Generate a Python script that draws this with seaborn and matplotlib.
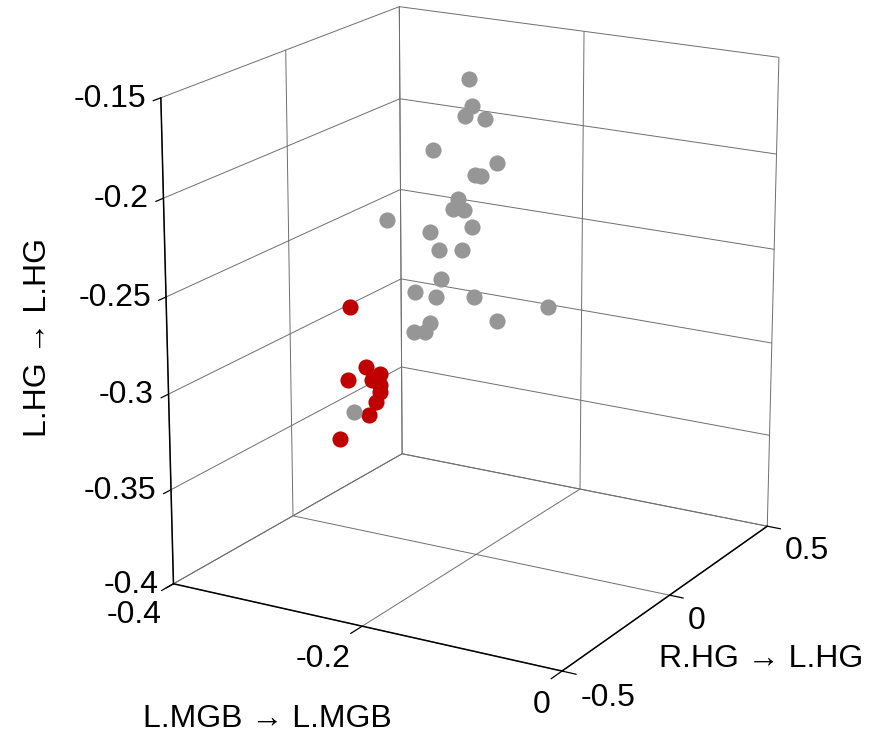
import numpy as np
import matplotlib
matplotlib.use("Agg")
import matplotlib.pyplot as plt
import seaborn as sns

x_ticks = [-0.4, -0.2, 0]
y_ticks = [-0.5, 0, 0.5]
z_ticks = [-0.4, -0.35, -0.3, -0.25, -0.2, -0.15]
x_labels = ["-0.4", "-0.2", "0"]
y_labels = ["-0.5", "0", "0.5"]
z_labels = ["-0.4", "-0.35", "-0.3", "-0.25", "-0.2", "-0.15"]

gray_x = [-0.18, -0.18, -0.18, -0.18, -0.18, -0.18, -0.18, -0.18, -0.18, -0.18, -0.18, -0.18, -0.18,
          -0.18, -0.18, -0.18, -0.18, -0.18, -0.18, -0.18, -0.18, -0.18, -0.18, -0.18, -0.18, -0.32]
gray_y = [-0.117, -0.104, -0.137, -0.048, -0.271, 0.004, -0.092, -0.067, -0.167, -0.187, -0.140, -0.464, -0.105,
          -0.285, -0.249, -0.149, -0.242, -0.352, -0.262, -0.098, 0.246, -0.287, 0.006, -0.356, -0.311, -0.042]
gray_z = [-0.144, -0.158, -0.161, -0.167, -0.171, -0.192, -0.193, -0.195, -0.201, -0.205, -0.208, -0.195, -0.219,
          -0.211, -0.222, -0.228, -0.237, -0.237, -0.245, -0.255, -0.281, -0.257, -0.274, -0.257, -0.260, -0.332]

red_x = [-0.32, -0.32, -0.32, -0.32, -0.32, -0.32, -0.32, -0.32, -0.32, -0.32]
red_y = [-0.057, 0.009, -0.067, 0.074, 0.035, 0.072, 0.072, 0.052, 0.021, -0.107]
red_z = [-0.275, -0.311, -0.313, -0.319, -0.320, -0.325, -0.329, -0.333, -0.338, -0.342]

sns.set_theme(style="ticks")
plt.rcParams["font.family"] = ["Liberation Sans", "DejaVu Sans"]

fig = plt.figure(figsize=(8.8, 7.33), dpi=100)
ax = fig.add_axes([212.26 / 880, 148.51 / 733, 513.97 / 880, 513.97 / 733], projection="3d")
ax.computed_zorder = False
ax.patch.set_alpha(0)

ax.set_xlim(-0.4, 0, view_margin=0)
ax.set_ylim(-0.5, 0.5, view_margin=0)
ax.set_zlim(-0.4, -0.15, view_margin=0)
ax.view_init(elev=17.8315, azim=-59.9566, roll=0)
ax.set_proj_type("persp", focal_length=1.3807)
ax.set_box_aspect((0.8848, 0.8833, 1), zoom=1.5154)

ax.set_xticks(x_ticks)
ax.set_xticklabels(x_labels)
ax.set_yticks(y_ticks)
ax.set_yticklabels(y_labels)
ax.set_zticks(z_ticks)
ax.set_zticklabels(z_labels)
ax.tick_params(labelsize=23, colors="black")
ax.tick_params(axis="x", pad=1.9)
ax.tick_params(axis="y", pad=1.0)
ax.tick_params(axis="z", pad=-3.5)
ax.zaxis.set_ticks_position("lower")

# alignment of the tick texts as in the original: x and z end at the tick, y starts there
for lab in ax.get_xticklabels():
    lab.set_ha("right")
    lab.set_va("center")
for lab in ax.get_yticklabels():
    lab.set_ha("left")
    lab.set_va("center")
for lab in ax.get_zticklabels():
    lab.set_ha("right")
    lab.set_va("center")

for axis in (ax.xaxis, ax.yaxis, ax.zaxis):
    axis.set_pane_color((1, 1, 1, 0))
    axis.pane.set_edgecolor((1, 1, 1, 0))
    axis.line.set_color("black")
    axis.line.set_linewidth(1.1)
    axis._axinfo["grid"].update(color="#6e6e6e", linewidth=0.7, linestyle="-")

# the tick marks point away from the box, which here is the "inward" side of mplot3d
ax.xaxis._axinfo["tick"].update(inward_factor=0.6, outward_factor=0, linewidth={True: 0.9, False: 0.5})
ax.yaxis._axinfo["tick"].update(inward_factor=0.43, outward_factor=0, linewidth={True: 0.9, False: 0.5})
ax.zaxis._axinfo["tick"].update(inward_factor=0.37, outward_factor=0, linewidth={True: 0.9, False: 0.5})

ax.grid(True)

# gray dots, then red, then the one gray dot that sits on top of the red cluster
ax.scatter(gray_x[:-1], gray_y[:-1], gray_z[:-1], s=135, c="#969696", linewidths=0, depthshade=False, alpha=1, zorder=3)
ax.scatter(red_x, red_y, red_z, s=135, c="#C00000", linewidths=0, depthshade=False, alpha=1, zorder=4)
ax.scatter(gray_x[-1:], gray_y[-1:], gray_z[-1:], s=135, c="#969696", linewidths=0, depthshade=False, alpha=1, zorder=5)

fig.text(267 / 880, 1 - 719 / 733, "L.MGB → L.MGB", fontsize=23, ha="center", va="center", color="black")
fig.text(761 / 880, 1 - 659 / 733, "R.HG → L.HG", fontsize=23, ha="center", va="center", color="black")
fig.text(38 / 880, 1 - 338 / 733, "L.HG → L.HG", fontsize=23, ha="center", va="center", rotation=90, color="black")

fig.savefig("out.png", dpi=100)
